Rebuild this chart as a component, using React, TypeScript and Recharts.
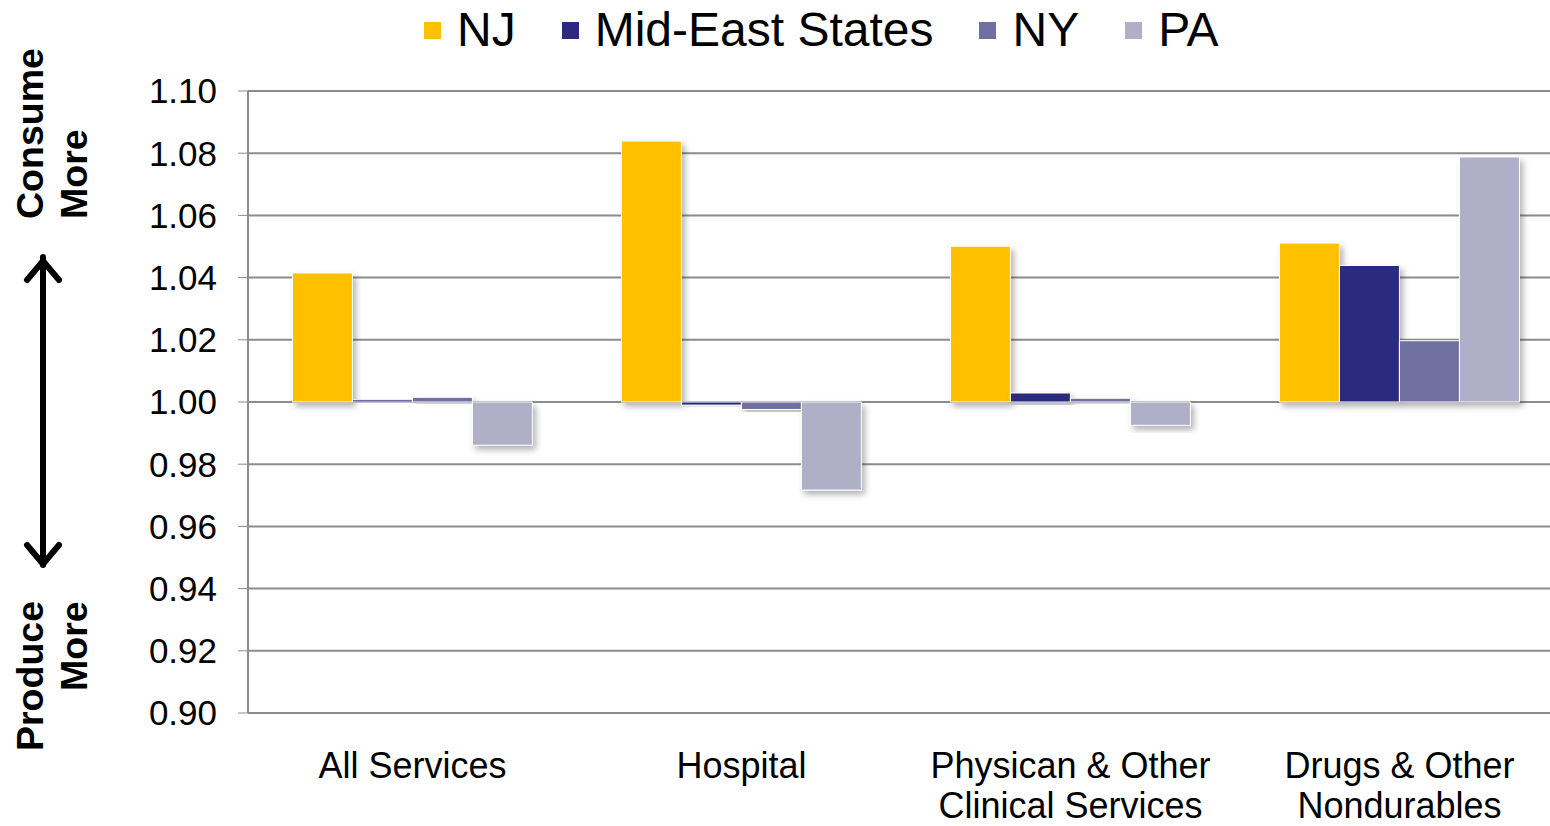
import { BarChart, Bar, XAxis, YAxis, CartesianGrid } from "recharts";

/* categories and series values (ratio, 1.00 = balance) */
const categories = [
  "All Services",
  "Hospital",
  "Physican & Other\nClinical Services",
  "Drugs & Other\nNondurables",
];
const njValues = [1.0415, 1.0839, 1.0501, 1.0511];
const midEastValues = [1.0007, 0.999, 1.0029, 1.0439];
const nyValues = [1.0015, 0.9976, 1.0012, 1.0197];
const paValues = [0.9861, 0.9717, 0.9925, 1.0788];
const yTicks = [0.9, 0.92, 0.94, 0.96, 0.98, 1.0, 1.02, 1.04, 1.06, 1.08, 1.1];

const baseline = 1;

const series = [
  { key: "nj", name: "NJ", values: njValues, color: "#FFC000" },
  { key: "mid", name: "Mid-East States", values: midEastValues, color: "#2B2A7E" },
  { key: "ny", name: "NY", values: nyValues, color: "#6F70A0" },
  { key: "pa", name: "PA", values: paValues, color: "#AFAFC7" },
];

/* bars are drawn from 1.00, so each value becomes a [low, high] range */
const chartData = categories.map((name, i) => {
  const row: Record<string, unknown> = { name };
  series.forEach((s) => {
    const v = s.values[i];
    row[s.key] = [Math.min(baseline, v), Math.max(baseline, v)];
  });
  return row;
});

const font = "'Liberation Sans', Arial, sans-serif";

const CategoryTick = (props: any) => {
  const { x, y, payload } = props;
  const lines = String(payload.value).split("\n");
  return (
    <text x={x} y={y} textAnchor="middle" fill="#000" fontSize={36} fontFamily={font}>
      {lines.map((line, i) => (
        <tspan key={i} x={x} dy={i === 0 ? 57 : 40}>
          {line}
        </tspan>
      ))}
    </text>
  );
};

const App = () => {
  return (
    <div style={{ position: "absolute", left: 0, top: 0, width: 1550, height: 826, overflow: "hidden", background: "#fff", fontFamily: font }}>
      {/* legend */}
      <div style={{ position: "absolute", top: 2, left: 424, display: "flex", alignItems: "center", whiteSpace: "nowrap" }}>
        {series.map((s) => (
          <div key={s.key} style={{ display: "flex", alignItems: "center", marginRight: 46 }}>
            <div style={{ width: 17, height: 17, background: s.color, marginRight: 16 }} />
            <span style={{ fontSize: 48, color: "#000", lineHeight: "56px" }}>{s.name}</span>
          </div>
        ))}
      </div>

      {/* left side annotation */}
      <svg width={120} height={826} style={{ position: "absolute", left: 0, top: 0 }}>
        <g fontFamily={font} fontWeight="bold" fontSize={37.5} fill="#000">
          <text transform="translate(43,219) rotate(-90)">Consume</text>
          <text transform="translate(87,219) rotate(-90)">More</text>
          <text transform="translate(43,751) rotate(-90)">Produce</text>
          <text transform="translate(87,691) rotate(-90)">More</text>
        </g>
        <g stroke="#000" strokeWidth={6} fill="none" strokeLinecap="round" strokeLinejoin="round">
          <line x1={43} y1={257} x2={43} y2={565} />
          <polyline points="27,280 43,261 59,280" />
          <polyline points="27,545 43,564 59,545" />
        </g>
      </svg>

      <div style={{ position: "absolute", left: 0, top: 0 }}>
        <BarChart
          width={1564}
          height={826}
          data={chartData}
          margin={{ top: 91, right: 0, bottom: 0, left: 0 }}
          barCategoryGap="13.5%"
          barGap={0}
        >
          <defs>
            <filter id="barShadow" x="-20%" y="-20%" width="150%" height="150%">
              <feDropShadow dx={3} dy={4} stdDeviation={3} floodColor="#000" floodOpacity={0.3} />
            </filter>
          </defs>
          <CartesianGrid vertical={false} stroke="#8c8c8c" strokeWidth={2} />
          <XAxis
            dataKey="name"
            height={113}
            axisLine={false}
            tickLine={false}
            interval={0}
            tick={<CategoryTick />}
          />
          <YAxis
            width={248}
            domain={[0.9, 1.1]}
            ticks={yTicks}
            interval={0}
            allowDataOverflow
            tickFormatter={(v: number) => v.toFixed(2)}
            tick={{ fill: "#000", fontSize: 35, fontFamily: font }}
            tickSize={10}
            tickMargin={21}
            axisLine={{ stroke: "#8c8c8c", strokeWidth: 2 }}
            tickLine={{ stroke: "#8c8c8c", strokeWidth: 1 }}
          />
          {series.map((s) => (
            <Bar
              key={s.key}
              dataKey={s.key}
              name={s.name}
              fill={s.color}
              stroke="#fff"
              strokeWidth={1}
              filter="url(#barShadow)"
              isAnimationActive={false}
            />
          ))}
        </BarChart>
      </div>
    </div>
  );
};

export default App;
